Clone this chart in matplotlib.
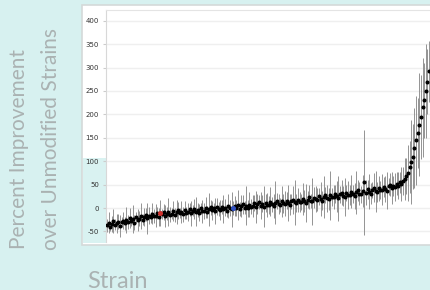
import numpy as np
import matplotlib
matplotlib.use("Agg")
from matplotlib import pyplot as plt
from matplotlib.patches import Rectangle

# Mean percent improvement per strain (sorted)
improvement = [
    -37, -31, -40, -34, -28, -36, -33, -29, -38, -30,
    -27, -33, -25, -30, -22, -28, -24, -31, -20, -26,
    -23, -17, -25, -19, -14, -22, -16, -20, -12, -18,
    -16, -11, -19, -10, -13, -8, -17, -12, -9, -14,
    -12, -6, -14, -9, -5, -11, -8, -13, -4, -10,
    -9, -3, -11, -6, -2, -8, -5, -10, -1, -7,
    -6, 1, -8, -3, 2, -5, -1, -7, 3, -2,
    -4, 3, -2, 1, -6, 4, 0, -3, 0, 5,
    0, 6, -2, 4, 8, 1, 5, -1, 7, 3,
    4, 10, 2, 8, 12, 5, 9, 3, 11, 7,
    6, 13, 8, 4, 11, 15, 9, 7, 14, 10,
    9, 16, 11, 7, 14, 18, 12, 10, 17, 13,
    13, 20, 15, 11, 18, 23, 16, 14, 22, 19,
    18, 25, 20, 16, 24, 28, 21, 19, 27, 23,
    23, 30, 25, 21, 29, 33, 26, 24, 32, 28,
    28, 35, 30, 26, 34, 38, 31, 29, 37, 55,
    33, 40, 35, 31, 39, 43, 36, 34, 42, 38,
    39, 45, 41, 37, 46, 50, 43, 47, 44, 52,
    48, 55, 51, 58, 62, 68, 75, 88, 98, 110,
    128, 145, 160, 178, 195, 215, 230, 250, 270, 292,
]

# Error bar half-lengths
error = [
    14, 22, 10, 18, 26, 12, 20, 16, 24, 11,
    18, 13, 28, 15, 21, 10, 30, 17, 12, 24,
    16, 27, 12, 20, 14, 33, 18, 11, 22, 15,
    25, 13, 19, 28, 10, 17, 23, 14, 30, 16,
    12, 21, 15, 26, 18, 11, 24, 16, 20, 13,
    19, 14, 27, 12, 22, 31, 15, 18, 11, 25,
    17, 23, 13, 36, 16, 20, 12, 28, 18, 14,
    22, 15, 30, 19, 13, 26, 17, 38, 14, 21,
    18, 32, 15, 24, 20, 14, 42, 19, 27, 16,
    23, 17, 35, 21, 15, 29, 18, 44, 20, 26,
    19, 31, 16, 25, 46, 18, 22, 15, 33, 20,
    27, 18, 38, 22, 16, 30, 48, 19, 25, 21,
    17, 34, 23, 40, 19, 26, 15, 50, 22, 28,
    24, 18, 36, 21, 45, 17, 29, 23, 52, 19,
    26, 20, 33, 48, 18, 27, 22, 40, 17, 30,
    21, 36, 19, 28, 46, 22, 25, 18, 34, 112,
    27, 20, 38, 23, 17, 31, 44, 21, 26, 19,
    33, 22, 28, 40, 19, 25, 35, 21, 30, 24,
    28, 22, 36, 30, 45, 38, 60, 55, 90, 70,
    85, 95, 75, 110, 90, 105, 80, 100, 70, 65,
]

# Two highlighted strains
highlight_idx = [33, 78]
highlight_colors = ["#d0312d", "#3050c0"]

yticks = [-50, 0, 50, 100, 150, 200, 250, 300, 350, 400]

strain = np.arange(len(improvement))

fig = plt.figure(figsize=(4.3, 2.9), dpi=100)
fig.patch.set_facecolor("#d7f1f0")

# outer white panel behind the chart
fig.patches.append(Rectangle((82 / 430, 1 - 245 / 290), 1.0, 240 / 290,
                             transform=fig.transFigure, facecolor="white",
                             edgecolor="#d4d9d9", linewidth=1.2, zorder=-2))
fig.patches.append(Rectangle((83 / 430, 1 - 243 / 290), 23 / 430, 85 / 290,
                             transform=fig.transFigure, facecolor="#d9f2f1",
                             edgecolor="none", zorder=-1))

ax = fig.add_axes([106 / 430, 1 - 242 / 290, 334 / 430, 232 / 290])
ax.set_zorder(2)
ax.set_facecolor("white")
ax.errorbar(strain, improvement, yerr=error, fmt="none",
            ecolor="#939393", elinewidth=0.7, zorder=2)
ax.plot(strain, improvement, "o", color="black", markersize=1.9, zorder=3)
for i, c in zip(highlight_idx, highlight_colors):
    ax.plot(strain[i], improvement[i], "o", color=c, markersize=2.6, zorder=4)

ax.set_xlim(-0.6, 205.8)
ax.set_ylim(-72.6, 423)
ax.set_yticks(yticks)
ax.set_yticklabels([str(v) for v in yticks], fontsize=5, color="#333333")
ax.set_xticks([])
ax.tick_params(axis="y", length=2, color="#cccccc", pad=3)
ax.yaxis.grid(True, color="#efefef", linewidth=1)
ax.set_axisbelow(True)
for side in ["right", "bottom"]:
    ax.spines[side].set_visible(False)
ax.spines["left"].set_color("#d8d8d8")
ax.spines["top"].set_color("#e4e4e4")

# y label in two lines, bottom aligned
label_style = dict(rotation=90, rotation_mode="anchor", ha="left", va="center",
                   color="#aab2b2", fontsize=15, family="Lato")
fig.text(19 / 430, 1 - 249 / 290, "Percent Improvement", **label_style)
fig.text(51 / 430, 1 - 250 / 290, "over Unmodified Strains", **label_style)
fig.text(87 / 430, 1 - 281 / 290, "Strain", ha="left", va="center",
         color="#aab2b2", fontsize=17, family="Lato")

fig.savefig("out.png", dpi=100, facecolor=fig.get_facecolor())
